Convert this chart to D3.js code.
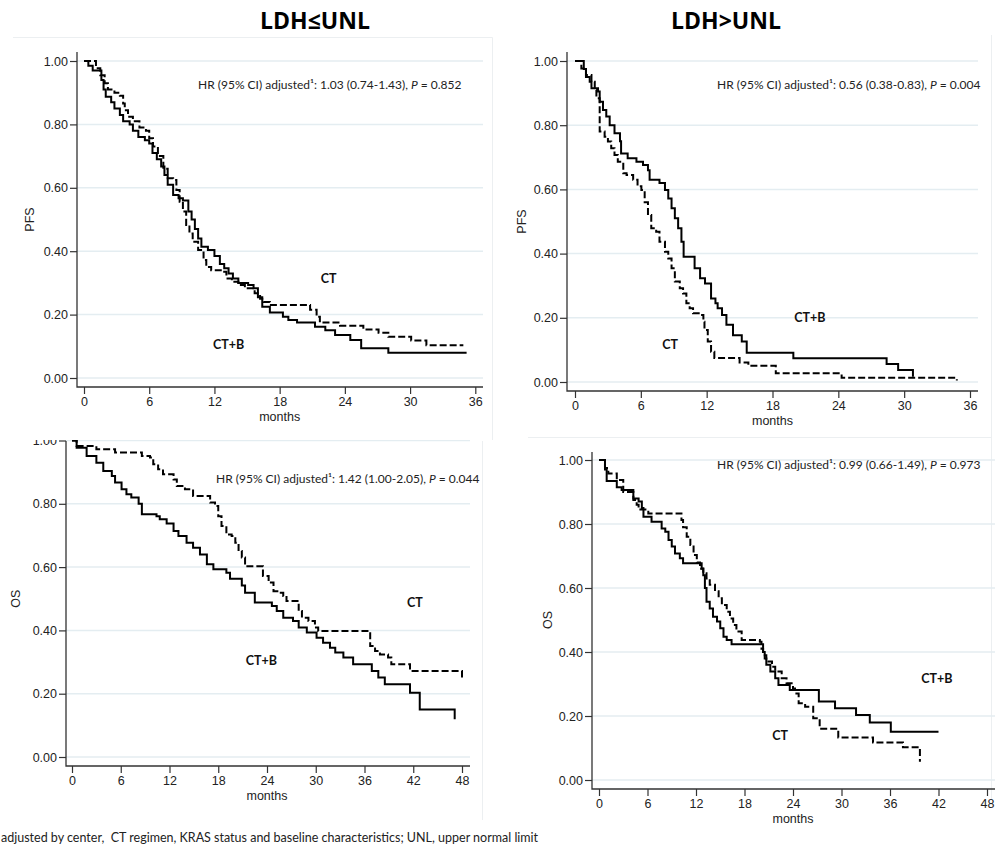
<!DOCTYPE html>
<html>
<head>
<meta charset="utf-8">
<script src="https://cdn.jsdelivr.net/npm/d3@7"></script>
<style>
  body { margin: 0; background: #fff; }
  svg { display: block; }
  .tick text { font-family: "Liberation Sans", Arial, sans-serif; font-size: 12.5px; fill: #222; }
  .tick line { stroke: #333; stroke-width: 1.2; }
</style>
</head>
<body>
<svg id="chart" width="997" height="845"></svg>
<script>
// ---- data ----
var yTicks = [0, 0.2, 0.4, 0.6, 0.8, 1.0];
var pfsTicks = [0, 6, 12, 18, 24, 30, 36];
var osTicks = [0, 6, 12, 18, 24, 30, 36, 42, 48];
var groupTitles = ["LDH\u2264UNL", "LDH>UNL"];
var armNames = ["CT", "CT+B"];

// PFS, LDH <= UNL
var pfsLowCTB_t = [0, 0.4, 0.8, 1.6, 1.8, 2.0, 2.5, 2.8, 3.3, 3.6, 4.2, 4.5, 5.0, 5.6, 6.0, 6.3, 6.7, 7.1, 7.4, 7.7, 8.2, 8.7, 9.1, 9.6, 9.9, 10.2, 10.5, 10.8, 11.4, 12.0, 12.5, 12.9, 13.3, 13.7, 14.2, 15.1, 15.6, 16.0, 16.4, 17.1, 18.3, 18.8, 19.6, 21.25, 22.2, 23.1, 24.5, 25.5, 28.0, 35.2];
var pfsLowCTB_s = [1.0, 0.985, 0.97, 0.94, 0.91, 0.887, 0.87, 0.85, 0.83, 0.81, 0.80, 0.78, 0.76, 0.75, 0.74, 0.71, 0.69, 0.667, 0.64, 0.61, 0.577, 0.567, 0.56, 0.525, 0.50, 0.47, 0.44, 0.414, 0.404, 0.385, 0.36, 0.346, 0.33, 0.314, 0.30, 0.293, 0.283, 0.255, 0.225, 0.207, 0.193, 0.183, 0.175, 0.162, 0.151, 0.136, 0.12, 0.094, 0.08, 0.08];
var pfsLowCT_t = [0, 1.1, 1.5, 1.9, 2.2, 2.8, 3.3, 3.6, 3.75, 4.05, 4.5, 5.1, 5.7, 6.0, 6.35, 6.8, 7.3, 7.7, 8.2, 8.5, 8.8, 9.1, 9.4, 9.7, 10.0, 10.5, 11.0, 11.25, 11.7, 12.8, 13.1, 13.6, 14.2, 14.8, 15.7, 16.2, 16.5, 17.1, 20.8, 21.4, 21.7, 23.55, 25.7, 27.1, 28.0, 30.1, 31.5, 34.9];
var pfsLowCT_s = [1.0, 0.977, 0.955, 0.93, 0.91, 0.90, 0.89, 0.866, 0.845, 0.824, 0.81, 0.79, 0.78, 0.756, 0.73, 0.70, 0.66, 0.63, 0.625, 0.593, 0.556, 0.525, 0.483, 0.456, 0.43, 0.404, 0.372, 0.35, 0.34, 0.335, 0.314, 0.304, 0.293, 0.283, 0.267, 0.25, 0.24, 0.23, 0.215, 0.193, 0.175, 0.165, 0.153, 0.143, 0.13, 0.118, 0.103, 0.103];

// PFS, LDH > UNL
var pfsHighCTB_t = [0, 0.8, 1.0, 1.34, 1.5, 2.1, 2.25, 2.55, 2.85, 3.16, 3.6, 4.1, 4.2, 4.8, 5.6, 6.2, 6.65, 6.8, 7.7, 8.2, 8.5, 8.8, 9.1, 9.4, 9.7, 9.9, 10.9, 11.4, 11.85, 12.4, 12.8, 13.0, 13.4, 13.8, 14.4, 15.2, 15.65, 19.9, 28.4, 29.45, 30.8];
var pfsHighCTB_s = [1.0, 0.975, 0.95, 0.935, 0.915, 0.905, 0.873, 0.847, 0.827, 0.80, 0.775, 0.75, 0.712, 0.697, 0.686, 0.676, 0.66, 0.63, 0.62, 0.598, 0.572, 0.541, 0.51, 0.479, 0.437, 0.39, 0.354, 0.323, 0.307, 0.26, 0.245, 0.23, 0.209, 0.178, 0.146, 0.126, 0.091, 0.074, 0.056, 0.037, 0.016];
var pfsHighCT_t = [0, 0.58, 1.0, 1.5, 1.8, 1.95, 2.25, 2.7, 3.0, 3.3, 3.6, 3.9, 4.4, 4.7, 5.3, 5.7, 6.05, 6.35, 6.65, 6.95, 7.4, 7.7, 8.2, 8.5, 8.8, 9.1, 9.55, 9.85, 10.15, 10.45, 10.76, 11.4, 11.7, 11.8, 12.1, 12.4, 12.7, 15.0, 15.8, 18.3, 24.3, 34.8];
var pfsHighCT_s = [1.0, 0.977, 0.956, 0.935, 0.91, 0.884, 0.78, 0.764, 0.749, 0.728, 0.707, 0.686, 0.65, 0.645, 0.63, 0.61, 0.598, 0.56, 0.52, 0.479, 0.468, 0.437, 0.406, 0.385, 0.354, 0.313, 0.292, 0.276, 0.245, 0.23, 0.214, 0.209, 0.188, 0.162, 0.126, 0.094, 0.075, 0.061, 0.051, 0.027, 0.013, 0.005];

// OS, LDH <= UNL
var osLowCTB_t = [0, 0.57, 1.8, 3.0, 3.85, 4.9, 5.3, 6.1, 6.7, 7.3, 8.2, 8.6, 10.4, 10.8, 11.65, 12.5, 13.1, 14.1, 14.9, 15.75, 16.6, 17.4, 19.0, 19.45, 20.9, 21.3, 22.5, 24.6, 25.2, 26.0, 27.2, 27.9, 28.9, 30.1, 30.9, 31.75, 32.4, 33.4, 34.6, 36.9, 37.7, 38.5, 41.6, 42.8, 47.1];
var osLowCTB_s = [1.0, 0.977, 0.951, 0.93, 0.904, 0.888, 0.867, 0.846, 0.83, 0.82, 0.80, 0.767, 0.761, 0.751, 0.738, 0.714, 0.698, 0.677, 0.661, 0.64, 0.609, 0.593, 0.582, 0.563, 0.542, 0.519, 0.488, 0.477, 0.461, 0.44, 0.43, 0.409, 0.393, 0.377, 0.361, 0.345, 0.33, 0.314, 0.293, 0.272, 0.251, 0.23, 0.203, 0.15, 0.119];
var osLowCT_t = [0, 0.57, 3.0, 5.3, 8.6, 9.6, 10.0, 10.6, 11.2, 12.5, 12.9, 13.9, 14.9, 17.0, 17.6, 18.0, 18.4, 19.0, 19.65, 20.1, 20.5, 20.9, 21.3, 23.5, 24.2, 24.8, 25.4, 26.0, 26.4, 27.9, 28.3, 29.1, 29.9, 30.3, 36.7, 37.3, 37.9, 38.9, 39.3, 41.6, 48.0];
var osLowCT_s = [1.0, 0.983, 0.972, 0.962, 0.951, 0.946, 0.925, 0.909, 0.893, 0.877, 0.856, 0.846, 0.825, 0.804, 0.793, 0.761, 0.73, 0.703, 0.698, 0.677, 0.651, 0.63, 0.603, 0.572, 0.551, 0.524, 0.519, 0.509, 0.493, 0.461, 0.44, 0.43, 0.409, 0.398, 0.351, 0.335, 0.324, 0.314, 0.293, 0.272, 0.25];

// OS, LDH > UNL
var osHighCTB_t = [0, 0.74, 0.95, 2.2, 2.8, 4.25, 4.9, 5.3, 5.5, 6.5, 7.75, 8.2, 8.6, 9.0, 9.4, 10.0, 10.4, 12.7, 12.9, 13.1, 13.3, 13.7, 14.1, 14.6, 15.0, 15.4, 15.8, 16.4, 20.3, 20.5, 20.7, 21.2, 21.8, 22.2, 23.6, 27.2, 29.2, 31.8, 33.5, 36.1, 42.0];
var osHighCTB_s = [1.0, 0.97, 0.934, 0.915, 0.906, 0.88, 0.87, 0.85, 0.823, 0.807, 0.786, 0.776, 0.75, 0.73, 0.708, 0.693, 0.677, 0.661, 0.64, 0.60, 0.557, 0.536, 0.51, 0.495, 0.474, 0.448, 0.4375, 0.424, 0.40, 0.38, 0.36, 0.339, 0.318, 0.297, 0.281, 0.245, 0.224, 0.203, 0.18, 0.151, 0.151];
var osHighCT_t = [0, 0.74, 1.15, 2.2, 3.0, 4.25, 4.66, 4.9, 6.1, 10.2, 10.4, 10.85, 11.3, 11.7, 12.1, 12.5, 12.9, 13.3, 13.7, 14.35, 14.8, 15.2, 15.8, 16.2, 16.6, 17.0, 17.65, 19.9, 20.1, 20.3, 20.7, 21.4, 21.8, 22.6, 23.2, 24.0, 24.25, 24.7, 25.5, 26.5, 27.3, 29.6, 33.9, 37.6, 39.7];
var osHighCT_s = [1.0, 0.975, 0.958, 0.9375, 0.90, 0.875, 0.86, 0.845, 0.833, 0.8125, 0.79, 0.76, 0.734, 0.703, 0.68, 0.66, 0.646, 0.63, 0.61, 0.59, 0.568, 0.547, 0.526, 0.505, 0.484, 0.464, 0.4375, 0.432, 0.41, 0.39, 0.37, 0.354, 0.339, 0.318, 0.302, 0.286, 0.27, 0.24, 0.229, 0.193, 0.16, 0.133, 0.117, 0.102, 0.057];

var hrTexts = [
  ["1.03 (0.74-1.43)", "0.852"],
  ["0.56 (0.38-0.83)", "0.004"],
  ["1.42 (1.00-2.05)", "0.044"],
  ["0.99 (0.66-1.49)", "0.973"]
];
var footnote = "adjusted by center,  CT regimen, KRAS status and baseline characteristics; UNL, upper normal limit";

// ---- layout ----
var svg = d3.select("#chart");
var fontText = "Lato, 'Open Sans', sans-serif";
var fontAxis = "'Liberation Sans', Arial, sans-serif";

var panels = [
  { xMax: 36, ticks: pfsTicks, xr: [84, 475.3], yr: [378, 61], axisX: 77, axisTop: 52, axisBot: 387, right: 483,
    yTitle: "PFS", yTitleX: 30, ct: pfsLowCT_t, cs: pfsLowCT_s, bt: pfsLowCTB_t, bs: pfsLowCTB_s,
    hr: hrTexts[0], hrX: 198, hrY: 85, labCT: [22.5, 0.315], labB: [13.3, 0.104] },
  { xMax: 36, ticks: pfsTicks, xr: [575, 970], yr: [382, 61], axisX: 567, axisTop: 52, axisBot: 391, right: 978,
    yTitle: "PFS", yTitleX: 522, ct: pfsHighCT_t, cs: pfsHighCT_s, bt: pfsHighCTB_t, bs: pfsHighCTB_s,
    hr: hrTexts[1], hrX: 717, hrY: 85, labCT: [8.66, 0.115], labB: [21.4, 0.202] },
  { xMax: 48, ticks: osTicks, xr: [72, 462], yr: [757, 440.5], axisX: 66, axisTop: 441, axisBot: 766, right: 470,
    yTitle: "OS", yTitleX: 16, ct: osLowCT_t, cs: osLowCT_s, bt: osLowCTB_t, bs: osLowCTB_s,
    hr: hrTexts[2], hrX: 216, hrY: 479, labCT: [42.2, 0.487], labB: [23.3, 0.306], clipTop: 440 },
  { xMax: 48, ticks: osTicks, xr: [599, 987], yr: [780, 460], axisX: 592, axisTop: 452, axisBot: 789, right: 995,
    yTitle: "OS", yTitleX: 548, ct: osHighCT_t, cs: osHighCT_s, bt: osHighCTB_t, bs: osHighCTB_s,
    hr: hrTexts[3], hrX: 717, hrY: 465, labCT: [22.4, 0.1375], labB: [41.8, 0.316] }
];

// faint borders of the pasted panels
var frame = svg.append("g").attr("stroke", "#eceff1").attr("stroke-width", 1).attr("fill", "none");
frame.append("path").attr("d", "M13,37.5H492.5V440");
frame.append("path").attr("d", "M991.5,35V437.5H528");
frame.append("path").attr("d", "M482.5,441V820");
frame.append("path").attr("d", "M991.5,437V800");

// column titles
svg.selectAll(".title").data(groupTitles).enter().append("text")
  .attr("x", function (d, i) { return i === 0 ? 315 : 726; })
  .attr("y", 21)
  .attr("dy", "0.35em")
  .attr("text-anchor", "middle")
  .style("font-family", "'Open Sans', sans-serif")
  .style("font-weight", 700)
  .style("font-size", "23px")
  .style("fill", "#000")
  .text(function (d) { return d; });

panels.forEach(function (p, i) {
  var g = svg.append("g");
  if (p.clipTop) {
    svg.append("clipPath").attr("id", "clip" + i)
      .append("rect").attr("x", 0).attr("y", p.clipTop).attr("width", 997).attr("height", 845 - p.clipTop);
    g.attr("clip-path", "url(#clip" + i + ")");
  }
  var x = d3.scaleLinear().domain([0, p.xMax]).range(p.xr);
  var y = d3.scaleLinear().domain([0, 1]).range(p.yr);

  // gridlines
  g.selectAll(".grid").data(yTicks).enter().append("line")
    .attr("x1", p.axisX).attr("x2", p.right)
    .attr("y1", function (d) { return y(d); }).attr("y2", function (d) { return y(d); })
    .attr("stroke", "#e4edf1").attr("stroke-width", 1.5);

  // axes
  var ya = d3.axisLeft(y).tickValues(yTicks).tickFormat(d3.format(".2f")).tickSize(7).tickPadding(2);
  var yg = g.append("g").attr("transform", "translate(" + p.axisX + ",0)").call(ya);
  yg.select(".domain").remove();
  var xa = d3.axisBottom(x).tickValues(p.ticks).tickFormat(d3.format("d")).tickSize(7).tickPadding(3);
  var xg = g.append("g").attr("transform", "translate(0," + p.axisBot + ")").call(xa);
  xg.select(".domain").remove();
  g.append("path")
    .attr("d", "M" + p.axisX + "," + p.axisTop + "V" + p.axisBot + "H" + p.right)
    .attr("fill", "none").attr("stroke", "#333").attr("stroke-width", 1.3);

  // axis titles
  g.append("text")
    .attr("transform", "translate(" + p.yTitleX + "," + ((p.yr[0] + p.yr[1]) / 2) + ") rotate(-90)")
    .attr("text-anchor", "middle").attr("dy", "0.35em")
    .style("font-family", fontAxis).style("font-size", "12.5px").style("fill", "#222")
    .text(p.yTitle);
  g.append("text")
    .attr("x", x(p.xMax / 2)).attr("y", p.axisBot + 30).attr("dy", "0.35em")
    .attr("text-anchor", "middle")
    .style("font-family", fontAxis).style("font-size", "12.5px").style("fill", "#222")
    .text("months");

  // KM curves
  var line = d3.line()
    .x(function (d) { return x(d[0]); })
    .y(function (d) { return y(d[1]); })
    .curve(d3.curveStepAfter);
  g.append("path").datum(d3.zip(p.ct, p.cs))
    .attr("d", line).attr("fill", "none").attr("stroke", "#000")
    .attr("stroke-width", 2).attr("stroke-dasharray", "7,3");
  g.append("path").datum(d3.zip(p.bt, p.bs))
    .attr("d", line).attr("fill", "none").attr("stroke", "#000")
    .attr("stroke-width", 2);

  // arm labels
  [[armNames[0], p.labCT], [armNames[1], p.labB]].forEach(function (a) {
    g.append("text")
      .attr("x", x(a[1][0])).attr("y", y(a[1][1])).attr("dy", "0.35em")
      .attr("text-anchor", "middle")
      .style("font-family", fontText).style("font-weight", 700).style("font-size", "12.5px")
      .style("fill", "#111")
      .text(a[0]);
  });

  // hazard ratio
  var hr = g.append("text")
    .attr("x", p.hrX).attr("y", p.hrY).attr("dy", "0.35em")
    .style("font-family", fontText).style("font-size", "12px").style("fill", "#222");
  hr.append("tspan").text("HR (95% CI) adjusted\u00b9: " + p.hr[0] + ", ");
  hr.append("tspan").style("font-style", "italic").text("P");
  hr.append("tspan").text(" = " + p.hr[1]);
});

// footnote (left edge of the source figure is cropped, the superscript falls outside)
svg.append("text")
  .attr("x", 1).attr("y", 838).attr("dy", "0.35em")
  .style("white-space", "pre")
  .style("font-family", fontText).style("font-size", "12.5px").style("fill", "#222")
  .text(footnote);
</script>
</body>
</html>
